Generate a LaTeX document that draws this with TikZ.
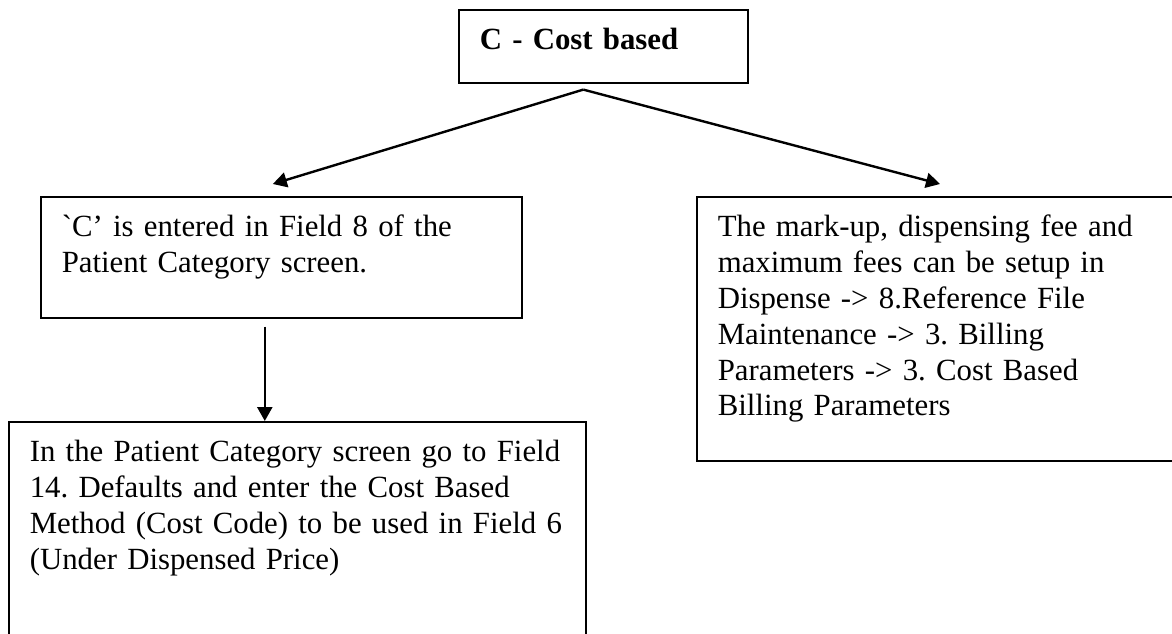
\documentclass[tikz,border=0pt]{standalone}
\usepackage{fontspec}
\setmainfont{Liberation Serif}
\usetikzlibrary{arrows.meta,positioning}

\begin{document}
\frenchspacing
\begin{tikzpicture}[
    x=0.5pt, y=-0.5pt,
    box/.style={draw, line width=0.8pt, anchor=north west, align=left, inner xsep=10.5pt, inner ysep=9pt, text height=11pt, font=\fontsize{15.4}{17.9}\selectfont},
    arrow/.style={-{Triangle[length=7pt, width=7.5pt]}, line width=1.2pt}
  ]
    \useasboundingbox (0,0) rectangle (1172,633);
    \clip (0,0) rectangle (1172,633);

    \node[box, text width=123.5pt, text depth=7.5pt] (costbox) at (458,9) {\textbf{C - Cost based}};
    \node[box, text width=219.5pt, text depth=31.5pt] (condbox) at (40,196) {\textasciigrave C' is entered in Field 8 of the\\Patient Category screen.};
    \node[box, text width=221pt, text depth=103pt] (feebox) at (696,196) {The mark-up, dispensing fee and\\maximum fees can be setup in\\Dispense -> 8.Reference File\\Maintenance -> 3. Billing\\Parameters -> 3. Cost Based\\Billing Parameters};
    \node[box, text width=267.5pt, text depth=111pt] (methodbox) at (8,421) {In the Patient Category screen go to Field\\14. Defaults and enter the Cost Based\\Method (Cost Code) to be used in Field 6\\(Under Dispensed Price)};

    % split point under the top box
    \coordinate (split) at ([xshift=-10pt, yshift=-3pt]costbox.south);
    \coordinate (drop) at ([xshift=-8.25pt, yshift=-4pt]condbox.south);

    \draw[arrow] (split) -- ([xshift=-4.25pt, yshift=6pt]condbox.north);
    \draw[arrow] (split) -- ([xshift=122pt, yshift=6pt]feebox.north west);
    \draw[arrow] (drop) -- (drop |- methodbox.north);
  \end{tikzpicture}
\end{document}
